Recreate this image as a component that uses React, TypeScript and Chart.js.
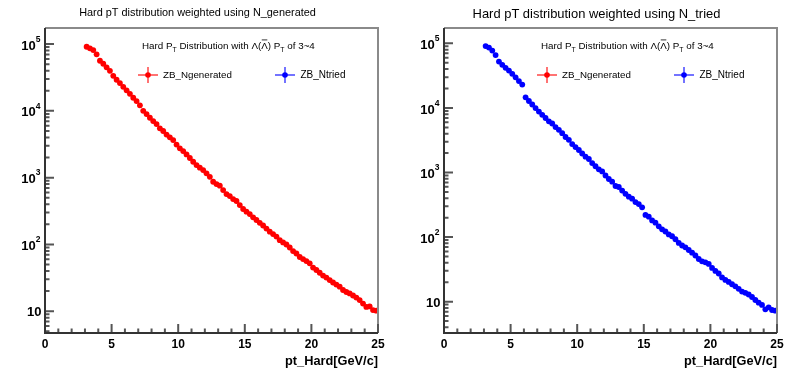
import React, { useEffect, useRef } from "react";
import { Chart, registerables } from "chart.js";
Chart.register(...registerables);

// ---------- data ----------
const binCenters = [
  3.125, 3.375, 3.625, 3.875, 4.125, 4.375, 4.625, 4.875, 5.125, 5.375, 5.625, 5.875,
  6.125, 6.375, 6.625, 6.875, 7.125, 7.375, 7.625, 7.875, 8.125, 8.375, 8.625, 8.875,
  9.125, 9.375, 9.625, 9.875, 10.125, 10.375, 10.625, 10.875, 11.125, 11.375, 11.625, 11.875,
  12.125, 12.375, 12.625, 12.875, 13.125, 13.375, 13.625, 13.875, 14.125, 14.375, 14.625, 14.875,
  15.125, 15.375, 15.625, 15.875, 16.125, 16.375, 16.625, 16.875, 17.125, 17.375, 17.625, 17.875,
  18.125, 18.375, 18.625, 18.875, 19.125, 19.375, 19.625, 19.875, 20.125, 20.375, 20.625, 20.875,
  21.125, 21.375, 21.625, 21.875, 22.125, 22.375, 22.625, 22.875, 23.125, 23.375, 23.625, 23.875,
  24.125, 24.375, 24.625, 24.875,
];

const ngeneratedValues = [
  91200, 86300, 81300, 70100, 56300, 50700, 44800, 39800, 33500, 29200,
  26100, 22900, 20300, 18000, 15700, 14000, 12100, 10000, 8950, 7880,
  7030, 6340, 5470, 4990, 4420, 4010, 3650, 3130, 2750, 2500,
  2230, 1970, 1730, 1540, 1410, 1300, 1160, 1030, 868, 802,
  757, 652, 568, 530, 478, 447, 389, 339, 309, 285,
  255, 232, 211, 192, 173, 155, 143, 131, 116, 107,
  99.7, 89.9, 79.6, 73.1, 64.8, 60.4, 56.4, 52.1, 45.1, 41.4,
  37.7, 34.2, 31.9, 29.3, 26.9, 25.1, 23.3, 20.8, 19.4, 18.5,
  17.2, 16.0, 14.7, 13.0, 11.6, 11.8, 10.4, 10.2,
];

const ntriedValues = [
  90800, 86100, 77400, 65900, 52300, 46500, 41800, 37900, 33700, 29800,
  26100, 23000, 14600, 12800, 11300, 9960, 8790, 7820, 6980, 6200,
  5740, 5060, 4580, 4060, 3550, 3210, 2760, 2480, 2230, 1970,
  1760, 1620, 1400, 1250, 1120, 1040, 899, 793, 721, 618,
  597, 526, 468, 422, 393, 349, 325, 289, 220, 207,
  181, 167, 147, 132, 122, 110, 103, 92.5, 81.1, 74.1,
  69.5, 63.1, 57.4, 51.9, 45.8, 42.2, 40.7, 38.4, 33.3, 29.9,
  27.3, 23.7, 21.7, 20.2, 18.6, 17.3, 15.8, 14.3, 13.7, 12.9,
  11.8, 10.6, 9.64, 8.89, 7.62, 8.18, 7.43, 7.26,
];

const xMajorTicks = [0, 5, 10, 15, 20, 25];
const xTickLabels = ["0", "5", "10", "15", "20", "25"];
const yDecadeExponents = [1, 2, 3, 4, 5];
const seriesNames = ["ZB_Ngenerated", "ZB_Ntried"];
const xAxisTitle = "pt_Hard[GeV/c]";
const leftTitle = "Hard pT distribution weighted using N_generated";
const rightTitle = "Hard pT distribution weighted using N_tried";

// ---------- drawing helpers ----------
const FONT = '"Liberation Sans", Arial, Helvetica, sans-serif';
const RED = "#ff0000";
const BLUE = "#0000ff";

function fitFont(ctx, text, weight, targetW, guess) {
  ctx.font = `${weight} ${guess}px ${FONT}`;
  const w = ctx.measureText(text).width;
  const size = (guess * targetW) / w;
  ctx.font = `${weight} ${size}px ${FONT}`;
  return size;
}

function drawHeader(ctx, x, y, targetW) {
  const parts = [
    { t: "Hard P", sub: false },
    { t: "T", sub: true },
    { t: " Distribution with ", sub: false },
    { t: "\u039B(", sub: false },
    { t: "\u039B", sub: false, bar: true },
    { t: ") P", sub: false },
    { t: "T", sub: true },
    { t: " of 3~4", sub: false },
  ];
  const measure = (s) => {
    let w = 0;
    for (const p of parts) {
      ctx.font = `${p.sub ? s * 0.7 : s}px ${FONT}`;
      w += ctx.measureText(p.t).width;
    }
    return w;
  };
  const s = (10 * targetW) / measure(10);
  let cx = x;
  ctx.fillStyle = "#000";
  ctx.textAlign = "left";
  ctx.textBaseline = "middle";
  for (const p of parts) {
    const fs = p.sub ? s * 0.7 : s;
    ctx.font = `${fs}px ${FONT}`;
    const w = ctx.measureText(p.t).width;
    ctx.fillText(p.t, cx, y + (p.sub ? s * 0.4 : 0));
    if (p.bar) {
      ctx.strokeStyle = "#000";
      ctx.lineWidth = 0.8;
      ctx.beginPath();
      ctx.moveTo(cx + 0.5, y - s * 0.62);
      ctx.lineTo(cx + w - 0.5, y - s * 0.62);
      ctx.stroke();
    }
    cx += w;
  }
}

function drawLegendEntry(ctx, cx, cy, color, light, label, textX, textW) {
  ctx.strokeStyle = light;
  ctx.lineWidth = 2;
  ctx.beginPath();
  ctx.moveTo(cx - 10, cy);
  ctx.lineTo(cx + 10, cy);
  ctx.moveTo(cx, cy - 8);
  ctx.lineTo(cx, cy + 8);
  ctx.stroke();
  ctx.fillStyle = color;
  ctx.beginPath();
  ctx.arc(cx, cy, 2.8, 0, Math.PI * 2);
  ctx.fill();
  ctx.fillStyle = "#000";
  fitFont(ctx, label, "normal", textW, 10);
  ctx.textAlign = "left";
  ctx.textBaseline = "middle";
  ctx.fillText(label, textX, cy + 0.5);
}

function makeRootPlugin(cfg) {
  return {
    id: "rootStyle",
    afterDraw(chart) {
      const ctx = chart.ctx;
      const { left, right, top, bottom } = chart.chartArea;
      const xs = chart.scales.x;
      const ys = chart.scales.y;
      ctx.save();

      // frame (top/right)
      ctx.strokeStyle = "#8a8a8a";
      ctx.lineWidth = 2;
      ctx.beginPath();
      ctx.moveTo(left, top);
      ctx.lineTo(right, top);
      ctx.lineTo(right, bottom);
      ctx.stroke();

      // x ticks
      ctx.strokeStyle = "#555";
      ctx.lineWidth = 2;
      ctx.beginPath();
      for (let v = 0; v <= 25; v += 1) {
        const px = xs.getPixelForValue(v);
        const len = v % 5 === 0 ? 9 : 4.5;
        ctx.moveTo(px, bottom);
        ctx.lineTo(px, bottom - len);
      }
      // y ticks
      for (let e = 0; e <= 5; e++) {
        for (let m = 1; m <= 9; m++) {
          const v = m * Math.pow(10, e);
          if (v < ys.min || v > ys.max) continue;
          const py = ys.getPixelForValue(v);
          const len = m === 1 ? 9 : 4.5;
          ctx.moveTo(left, py);
          ctx.lineTo(left + len, py);
        }
      }
      ctx.stroke();

      // axis lines
      ctx.strokeStyle = "#333";
      ctx.lineWidth = 2;
      ctx.beginPath();
      ctx.moveTo(left, top);
      ctx.lineTo(left, bottom);
      ctx.lineTo(right, bottom);
      ctx.stroke();

      // x tick labels
      ctx.fillStyle = "#000";
      ctx.font = `bold 12px ${FONT}`;
      ctx.textAlign = "center";
      ctx.textBaseline = "middle";
      xMajorTicks.forEach((v, i) => {
        ctx.fillText(xTickLabels[i], xs.getPixelForValue(v), bottom + 12);
      });

      // y tick labels (10^n)
      yDecadeExponents.forEach((e) => {
        const py = ys.getPixelForValue(Math.pow(10, e));
        ctx.textBaseline = "middle";
        if (e === 1) {
          ctx.font = `bold 13px ${FONT}`;
          ctx.textAlign = "right";
          ctx.fillText("10", left - 3.5, py + 1.5);
        } else {
          ctx.font = `bold 8.5px ${FONT}`;
          const ew = ctx.measureText(String(e)).width;
          const ex = left - 4.5 - ew;
          ctx.textAlign = "left";
          ctx.fillText(String(e), ex, py - 4.5);
          ctx.font = `bold 13px ${FONT}`;
          ctx.textAlign = "right";
          ctx.fillText("10", ex, py + 2);
        }
      });

      // x axis title
      fitFont(ctx, xAxisTitle, "bold", 93, 13);
      ctx.textAlign = "right";
      ctx.textBaseline = "middle";
      ctx.fillText(xAxisTitle, right, 361);

      // title
      fitFont(ctx, cfg.title, "normal", cfg.titleW, 12);
      ctx.textAlign = "center";
      ctx.textBaseline = "middle";
      ctx.fillText(cfg.title, cfg.titleX, cfg.titleY);

      // legend
      drawHeader(ctx, left + 97, 46, 173);
      drawLegendEntry(ctx, left + 103, 75, RED, "rgba(255,0,0,0.55)", seriesNames[0], left + 118, 69);
      drawLegendEntry(ctx, left + 240, 75, BLUE, "rgba(0,0,255,0.55)", seriesNames[1], left + 255.5, 45);

      ctx.restore();
    },
  };
}

function Panel({ values, color, yMin, yMax, title, titleW, titleY }) {
  const ref = useRef(null);
  useEffect(() => {
    const canvas = ref.current;
    const chart = new Chart(canvas, {
      type: "scatter",
      data: {
        datasets: [
          {
            data: binCenters.map((x, i) => ({ x, y: values[i] })),
            backgroundColor: color,
            borderColor: color,
            borderWidth: 0,
            pointRadius: 2.9,
            pointHoverRadius: 2.9,
          },
        ],
      },
      options: {
        responsive: false,
        animation: false,
        devicePixelRatio: 1,
        events: [],
        layout: { padding: { left: 0, top: 28, right: 21, bottom: 0 } },
        plugins: {
          legend: { display: false },
          title: { display: false },
          tooltip: { enabled: false },
        },
        scales: {
          x: {
            type: "linear",
            min: 0,
            max: 25,
            ticks: { display: false },
            grid: { display: false },
            border: { display: false },
            afterFit: (s) => {
              s.height = 42;
            },
          },
          y: {
            type: "logarithmic",
            min: yMin,
            max: yMax,
            ticks: { display: false },
            grid: { display: false },
            border: { display: false },
            afterFit: (s) => {
              s.width = 45;
            },
          },
        },
      },
      plugins: [makeRootPlugin({ title, titleW, titleX: 197.5, titleY })],
    });
    return () => chart.destroy();
  }, []);
  return <canvas ref={ref} width={399} height={375} style={{ display: "block", width: 399, height: 375 }} />;
}

export default function App() {
  return (
    <div style={{ position: "fixed", left: 0, top: 0, width: 798, height: 375, display: "flex", background: "#fff" }}>
      <Panel values={ngeneratedValues} color={RED} yMin={4.72} yMax={174000} title={leftTitle} titleW={237} titleY={13} />
      <Panel values={ntriedValues} color={BLUE} yMin={3.27} yMax={173000} title={rightTitle} titleW={248} titleY={14} />
    </div>
  );
}
